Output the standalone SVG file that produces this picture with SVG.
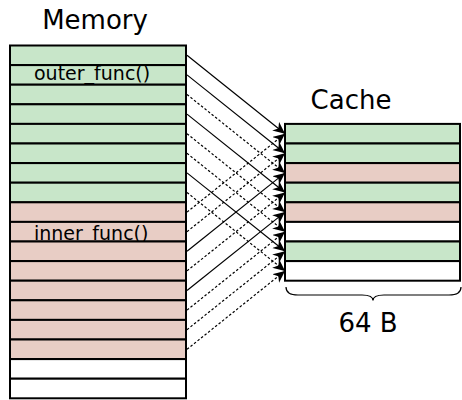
<svg xmlns="http://www.w3.org/2000/svg" width="462" height="400" viewBox="0 0 462 400">
<style>
.g{fill:#c8e6c9;stroke:#000;stroke-width:2}
.p{fill:#e8cdc5;stroke:#000;stroke-width:2}
.w{fill:#ffffff;stroke:#000;stroke-width:2}
.t{font-family:"DejaVu Sans",sans-serif;fill:#000}
.lbl{font-size:19px}
.ttl{font-size:26px;text-anchor:middle}
.s{stroke:#000;stroke-width:1.2;fill:none;marker-end:url(#ah)}
.d{stroke:#000;stroke-width:1.2;fill:none;stroke-dasharray:2.5,2;marker-end:url(#ah)}
</style>
<defs>
<marker id="ah" markerUnits="userSpaceOnUse" markerWidth="14" markerHeight="12" refX="12" refY="5.5" orient="auto">
<path d="M0,0 L12,5.5 L0,11 L3.5,5.5 z" fill="#000"/>
</marker>
</defs>
<rect width="462" height="400" fill="#fff"/>
<g id="memory-title"><text class="t ttl" x="95" y="28.5">Memory</text></g>
<g id="memory">
<g id="m0"><rect class="g" x="10" y="45.5" width="176" height="19.6"/></g>
<g id="m1"><rect class="g" x="10" y="65.1" width="176" height="19.6"/><text class="t lbl" x="34" y="79.6">outer_func()</text></g>
<g id="m2"><rect class="g" x="10" y="84.7" width="176" height="19.6"/></g>
<g id="m3"><rect class="g" x="10" y="104.3" width="176" height="19.6"/></g>
<g id="m4"><rect class="g" x="10" y="123.9" width="176" height="19.6"/></g>
<g id="m5"><rect class="g" x="10" y="143.5" width="176" height="19.6"/></g>
<g id="m6"><rect class="g" x="10" y="163.1" width="176" height="19.6"/></g>
<g id="m7"><rect class="g" x="10" y="182.7" width="176" height="19.6"/></g>
<g id="m8"><rect class="p" x="10" y="202.3" width="176" height="19.6"/></g>
<g id="m9"><rect class="p" x="10" y="221.9" width="176" height="19.6"/><text class="t lbl" x="34" y="240.2">inner_func()</text></g>
<g id="m10"><rect class="p" x="10" y="241.5" width="176" height="19.6"/></g>
<g id="m11"><rect class="p" x="10" y="261.1" width="176" height="19.6"/></g>
<g id="m12"><rect class="p" x="10" y="280.7" width="176" height="19.6"/></g>
<g id="m13"><rect class="p" x="10" y="300.3" width="176" height="19.6"/></g>
<g id="m14"><rect class="p" x="10" y="319.9" width="176" height="19.6"/></g>
<g id="m15"><rect class="p" x="10" y="339.5" width="176" height="19.6"/></g>
<g id="m16"><rect class="w" x="10" y="359.1" width="176" height="19.6"/></g>
<g id="m17"><rect class="w" x="10" y="378.7" width="176" height="19.6"/></g>
</g>
<g id="cache-title"><text class="t ttl" x="351" y="108.5">Cache</text></g>
<g id="cache">
<g id="c0"><rect class="g" x="285" y="123.9" width="175" height="19.6"/></g>
<g id="c1"><rect class="g" x="285" y="143.5" width="175" height="19.6"/></g>
<g id="c2"><rect class="p" x="285" y="163.1" width="175" height="19.6"/></g>
<g id="c3"><rect class="g" x="285" y="182.7" width="175" height="19.6"/></g>
<g id="c4"><rect class="p" x="285" y="202.3" width="175" height="19.6"/></g>
<g id="c5"><rect class="w" x="285" y="221.9" width="175" height="19.6"/></g>
<g id="c6"><rect class="g" x="285" y="241.5" width="175" height="19.6"/></g>
<g id="c7"><rect class="w" x="285" y="261.1" width="175" height="19.6"/></g>
</g>
<g id="brace">
<path d="M286,287 C286,293 290,295 298,295 L362,295 C369,295 373,296.5 373,300.5 C373,296.5 377,295 384,295 L449,295 C457,295 461,293 461,287" fill="none" stroke="#000" stroke-width="1.2"/>
<text class="t ttl" x="368" y="331.7">64 B</text>
</g>
<g id="connectors">
<line class="s" x1="187" y1="55.3" x2="285" y2="133.7"/>
<line class="s" x1="187" y1="74.9" x2="285" y2="153.3"/>
<line class="d" x1="187" y1="94.5" x2="285" y2="172.9"/>
<line class="s" x1="187" y1="114.1" x2="285" y2="192.5"/>
<line class="d" x1="187" y1="133.7" x2="285" y2="212.1"/>
<line class="d" x1="187" y1="153.3" x2="285" y2="231.7"/>
<line class="s" x1="187" y1="172.9" x2="285" y2="251.3"/>
<line class="d" x1="187" y1="192.5" x2="285" y2="270.9"/>
<line class="d" x1="187" y1="212.1" x2="285" y2="133.7"/>
<line class="d" x1="187" y1="231.7" x2="285" y2="153.3"/>
<line class="s" x1="187" y1="251.3" x2="285" y2="172.9"/>
<line class="d" x1="187" y1="270.9" x2="285" y2="192.5"/>
<line class="s" x1="187" y1="290.5" x2="285" y2="212.1"/>
<line class="d" x1="187" y1="310.1" x2="285" y2="231.7"/>
<line class="d" x1="187" y1="329.7" x2="285" y2="251.3"/>
<line class="d" x1="187" y1="349.3" x2="285" y2="270.9"/>
</g>
</svg>
